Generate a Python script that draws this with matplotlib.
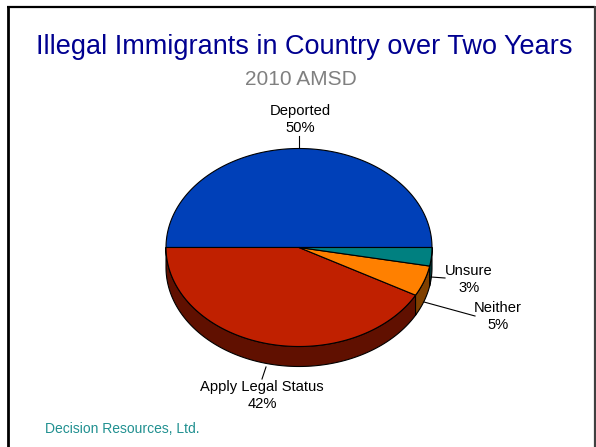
import numpy as np
import matplotlib
matplotlib.use("Agg")
import matplotlib.pyplot as plt
from matplotlib.patches import Polygon

plt.rcParams['font.family'] = ['Liberation Sans', 'DejaVu Sans']

# Survey data
categories = ["Deported", "Apply Legal Status", "Neither", "Unsure"]
shares = [50, 42, 5, 3]
top_colors = ["#0040B8", "#C02000", "#FF8000", "#008080"]
side_colors = ["#002060", "#601000", "#804000", "#004040"]

title = "Illegal Immigrants in Country over Two Years"
subtitle = "2010 AMSD"
footer = "Decision Resources, Ltd."

W, H = 596, 447
fig = plt.figure(figsize=(W / 100, H / 100), dpi=100)
ax = fig.add_axes([0, 0, 1, 1])
ax.set_xlim(0, W)
ax.set_ylim(H, 0)
ax.axis("off")

# slide frame (left, top, right edges)
ax.plot([8, 8], [H + 5, 7], color="black", lw=2.0, solid_capstyle="butt")
ax.plot([7, 595], [7, 7], color="black", lw=1.6, solid_capstyle="butt")
ax.plot([595, 595], [6, H + 5], color="#404040", lw=1.6, solid_capstyle="butt")

# Pie geometry: elliptical top face with a vertical rim
cx, cy = 299.0, 247.5
a, b = 133.0, 99.0
depth = 20.0

fracs = np.array(shares, dtype=float) / sum(shares)
bounds = np.concatenate([[0.0], np.cumsum(fracs)]) * 360.0


def pt(t_deg, dy=0.0):
    t = np.radians(t_deg)
    return cx + a * np.cos(t), cy - b * np.sin(t) + dy


# rims (only the front half, 180..360 degrees, faces the viewer)
for i in range(len(shares)):
    t0, t1 = bounds[i], bounds[i + 1]
    s0, s1 = max(t0, 180.0), min(t1, 360.0)
    if s1 <= s0:
        continue
    ts = np.linspace(s0, s1, 120)
    upper = [pt(t) for t in ts]
    lower = [pt(t, depth) for t in ts[::-1]]
    ax.add_patch(Polygon(upper + lower, closed=True, facecolor=side_colors[i],
                         edgecolor="black", lw=0.8, joinstyle="round"))

# top faces
for i in range(len(shares)):
    t0, t1 = bounds[i], bounds[i + 1]
    ts = np.linspace(t0, t1, 200)
    verts = [(cx, cy)] + [pt(t) for t in ts]
    ax.add_patch(Polygon(verts, closed=True, facecolor=top_colors[i],
                         edgecolor="black", lw=0.8, joinstyle="round"))

# labels with leader lines (name baseline, percent baseline)
label_fs = 10.6
labels = [
    dict(x=300, base=(115, 132), line=[(299, 136), (299, 148)]),
    dict(x=262, base=(391, 408), line=[(266, 367), (262, 379)]),
    dict(x=498, base=(312, 329), line=[(424, 302), (475, 316)]),
    dict(x=469, base=(275, 292), line=[(431, 277), (445, 278)]),
]
for cat, share, lab in zip(categories, shares, labels):
    (x0, y0), (x1, y1) = lab["line"]
    ax.plot([x0, x1], [y0, y1], color="black", lw=0.8)
    ax.text(lab["x"], lab["base"][0], cat, ha="center", va="baseline",
            fontsize=label_fs, color="black")
    ax.text(lab["x"], lab["base"][1], f"{share}%", ha="center", va="baseline",
            fontsize=label_fs, color="black")

ax.text(304, 54, title, ha="center", va="baseline", fontsize=19.5,
        color="#000090")
ax.text(301, 85, subtitle, ha="center", va="baseline", fontsize=15,
        color="#808080")
ax.text(45, 433, footer, ha="left", va="baseline", fontsize=10,
        color="#209090")

fig.savefig("out.png", dpi=100)
